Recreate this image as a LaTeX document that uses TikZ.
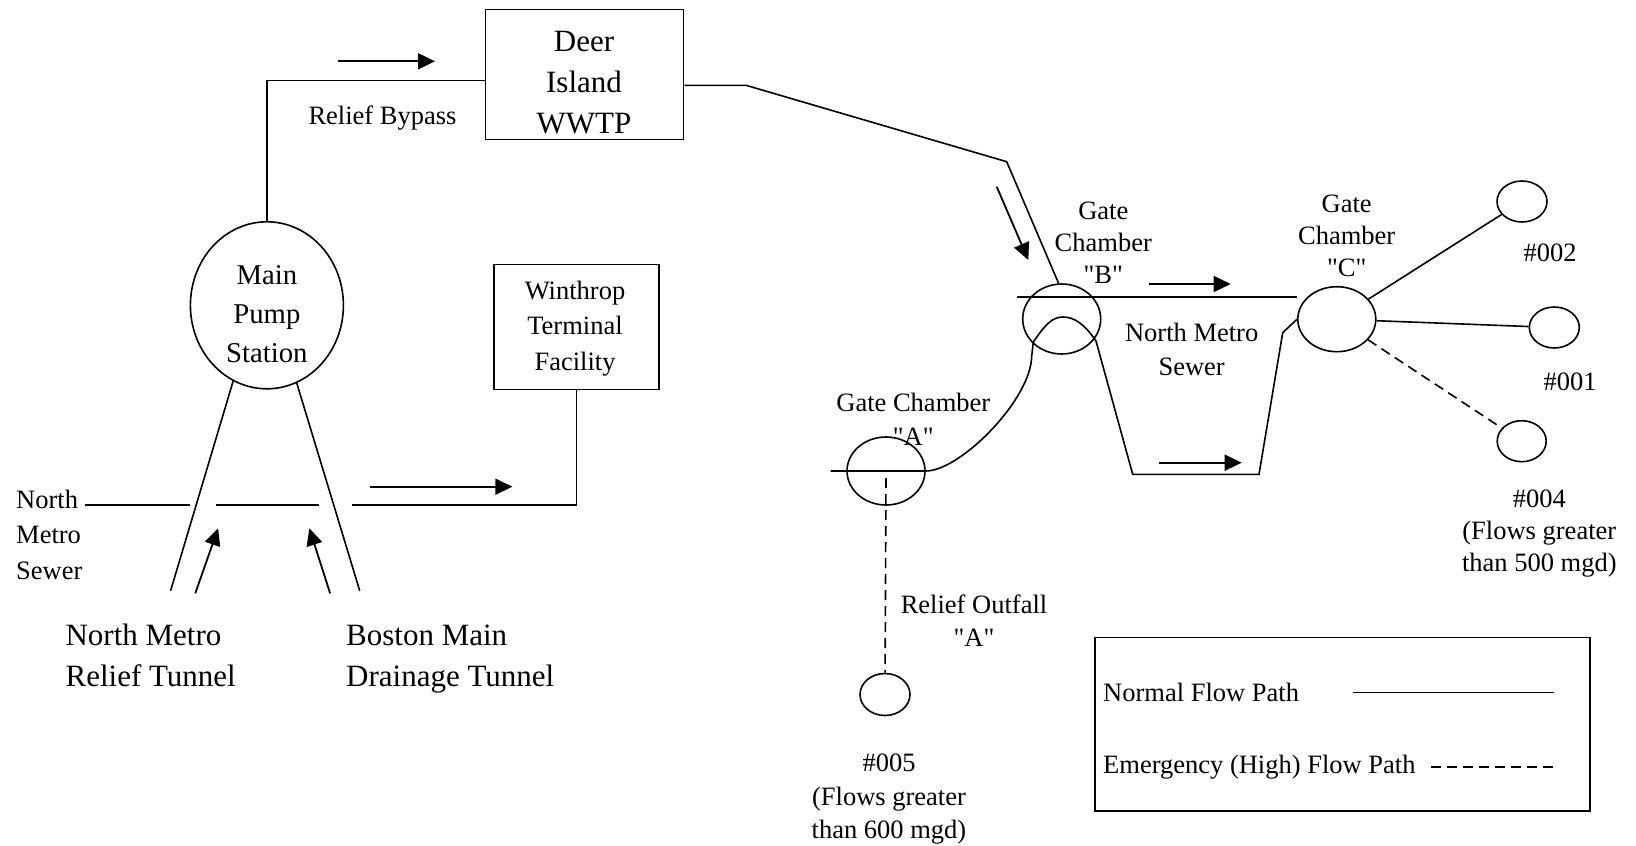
\documentclass[tikz,border=0pt]{standalone}
\usepackage{fontspec}
\setmainfont{Liberation Serif}
\usetikzlibrary{arrows.meta,shapes.geometric}
\newcommand{\qt}{\textquotedbl}

\begin{document}
\begin{tikzpicture}[x=1pt,y=-1pt,
  plant/.style={draw,line width=1.6pt,inner sep=0pt},
  chamber/.style={draw,ellipse,line width=1.6pt,minimum width=78pt,minimum height=68pt,inner sep=0pt},
  outfall/.style={draw,ellipse,line width=1.6pt,minimum width=50pt,minimum height=41pt,inner sep=0pt},
  pipe/.style={line width=1.6pt},
  relief/.style={line width=1.6pt,dash pattern=on 10pt off 6pt},
  flow/.style={-{Triangle[length=17pt,width=16pt]},line width=1.8pt},
  note/.style={font=\fontsize{26.5}{32}\selectfont,align=center,inner sep=0pt,anchor=base},
  title/.style={font=\fontsize{31}{41}\selectfont,align=left,inner sep=0pt,anchor=base west}
]
\useasboundingbox (0,0) rectangle (1636,846);

% treatment plants and pump station
\node[plant,minimum width=198pt,minimum height=130pt] (deer) at (584.6,74.3) {};
\node[note,font=\fontsize{31}{41}\selectfont] at (584,133.3) {Deer\\Island\\WWTP};
\node[plant,minimum width=165pt,minimum height=125pt] (winthrop) at (576.5,326.8) {};
\node[note,font=\fontsize{26.5}{35.5}\selectfont] at (575,370) {Winthrop\\Terminal\\Facility};
\node[draw,ellipse,line width=1.6pt,minimum width=153pt,minimum height=167pt,inner sep=0pt] (pump) at (266.9,305.3) {};
\node[note,font=\fontsize{28.7}{39}\selectfont] at (266.9,362.7) {Main\\Pump\\Station};

% gate chambers and outfalls
\node[chamber] (gateA) at (886,471) {};
\node[chamber,minimum height=70pt] (gateB) at (1061.7,319) {};
\node[chamber,minimum height=65pt] (gateC) at (1336.8,319.2) {};
\node[outfall] (o002) at (1522,201.5) {};
\node[outfall] (o001) at (1554.3,327.5) {};
\node[outfall,minimum width=49pt] (o004) at (1521.7,441.2) {};
\node[outfall,minimum height=42pt] (o005) at (885,694.5) {};

% pipes
\coordinate (nmsW) at (85,505);
\coordinate (nmsA) at (190,505);
\coordinate (nmsB) at (216,505);
\coordinate (nmsC) at (318.5,505);
\coordinate (nmsD) at (352,505);
\draw[pipe] (nmsW) -- (nmsA);
\draw[pipe] (nmsB) -- (nmsC);
\draw[pipe] (nmsD) -| (winthrop.south);

\coordinate (nmrt) at (170.6,590.7);
\coordinate (bmdt) at (359.7,590.7);
\draw[pipe] (pump.246.5) -- (nmrt);
\draw[pipe] (pump.291.3) -- (bmdt);

\coordinate (bypassin) at (485.6,80.3);
\draw[pipe] (pump.north) |- (bypassin);

\coordinate (outA) at (746,85.3);
\coordinate (outB) at (1006.7,161.7);
\draw[pipe] (deer.east |- outA) -- (outA) -- (outB) -- (gateB.95);

\coordinate (nmsE) at (1017.3,296.7);
\draw[pipe] (nmsE) -- (nmsE -| gateC.west);

\coordinate (aW) at (830.7,471);
\draw[pipe] (aW) -- (gateA.east) .. controls (960,471) and (1031,400) .. (1031.7,356)
  -- (1033.3,342) .. controls (1045,325) and (1052,317) .. (1063,317)
  .. controls (1075,317) and (1085,325) .. (1096,341)
  -- (1132.7,474.3) -- (1259,474.3) -- (1282.7,332.7) -- (gateC.west);

\draw[pipe] (gateC) -- (o002);
\draw[pipe] (gateC) -- (o001);
\draw[relief] (gateC) -- (o004);
\draw[relief] ([yshift=-7pt]gateA.center) -- (o005);

% flow directions
\draw[flow] (338,61.3) -- (435,61.3);
\draw[flow] (370,486.7) -- (512.4,486.7);
\draw[flow] (195.3,593.3) -- (218.1,528.3);
\draw[flow] (330.1,593.3) -- (309.3,528.3);
\draw[flow] (996.7,186.7) -- (1028.3,260);
\draw[flow] (1149.3,284) -- (1230.7,284);
\draw[flow] (1159.3,462.7) -- (1241.7,462.7);

% labels
\node[note] at (382.5,124) {Relief Bypass};
\node[note,font=\fontsize{26.5}{35.5}\selectfont,align=left,anchor=base west] at (16,579.3) {North\\Metro\\Sewer};
\node[title] at (65.4,686) {North Metro\\Relief Tunnel};
\node[title] at (346,686) {Boston Main\\Drainage Tunnel};
\node[note] at (1103.3,283.3) {Gate\\Chamber\\\qt B\qt};
\node[note,font=\fontsize{26.5}{33.3}\selectfont] at (1191.7,375) {North Metro\\Sewer};
\node[note,font=\fontsize{26.5}{33.3}\selectfont] at (913.3,445) {Gate Chamber\\\qt A\qt};
\node[note] at (1346.7,276.7) {Gate\\Chamber\\\qt C\qt};
\node[note] at (1550,261.7) {\#002};
\node[note] at (1570,390) {\#001};
\node[note] at (1539.3,571.7) {\#004\\(Flows greater\\than 500 mgd)};
\node[note,font=\fontsize{26.5}{33.3}\selectfont] at (974,646.7) {Relief Outfall\\\qt A\qt};
\node[note,font=\fontsize{26.5}{33.3}\selectfont] at (889,838.3) {\#005\\(Flows greater\\than 600 mgd)};

% legend
\node[draw,line width=1.6pt,minimum width=495pt,minimum height=173.5pt] (legend) at (1342.5,724.2) {};
\node[note,anchor=base west] (normal) at (1103,701.7) {Normal Flow Path};
\node[note,anchor=base west] (emergency) at (1103,773.3) {Emergency (High) Flow Path};
\draw[pipe] ([xshift=54pt]normal.east) -- ++(200.8,0);
\draw[relief,line width=2.4pt] ([xshift=15.7pt]emergency.east) -- ++(122,0);
\end{tikzpicture}
\end{document}
